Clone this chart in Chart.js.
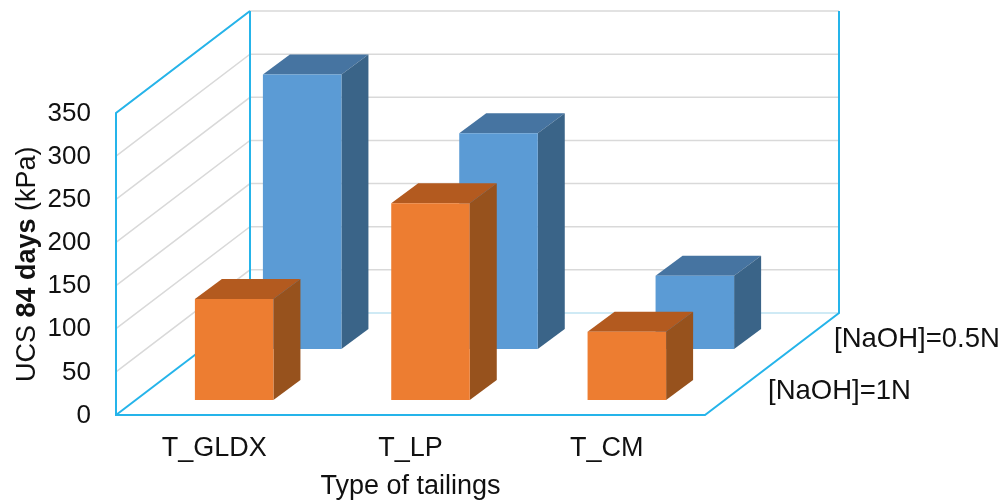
<!DOCTYPE html>
<html>
<head>
<meta charset="utf-8">
<style>
  html, body { margin: 0; padding: 0; background: #fff; }
  #wrap { width: 1003px; height: 500px; }
</style>
<script src="https://cdn.jsdelivr.net/npm/chart.js@4"></script>
</head>
<body>
<div id="wrap"><canvas id="c"></canvas></div>
<script>
const CATEGORIES = ['T_GLDX', 'T_LP', 'T_CM'];
const NAOH_1N = [117, 228, 79];
const NAOH_05N = [318, 250, 85];
const SERIES_LABELS = ['[NaOH]=1N', '[NaOH]=0.5N'];
const Y_TICK_STEP = 50;
const Y_MAX = 350;

const FONT = '"Liberation Sans", Arial, sans-serif';
const TEXT = '#111111';
const WALL = '#25b4ea';
const GRID = '#d9d9d9';
const DEPTH = { x: 134, y: -102 };  // 바닥 깊이 (앞 → 뒤)
const BAR_DEPTH = { x: 27, y: -20 };
const ROW_SHIFT = [{ x: 20, y: -15 }, { x: 88, y: -66 }];
const FACES = [
  { front: '#ed7d31', top: '#b35a1f', side: '#97521d' },
  { front: '#5b9bd5', top: '#4674a1', side: '#3a6488' },
];

function poly(ctx, pts, fill) {
  ctx.beginPath();
  pts.forEach(([x, y], i) => (i ? ctx.lineTo(x, y) : ctx.moveTo(x, y)));
  ctx.closePath();
  ctx.fillStyle = fill;
  ctx.fill();
}

function line(ctx, pts, color, width) {
  ctx.beginPath();
  pts.forEach(([x, y], i) => (i ? ctx.lineTo(x, y) : ctx.moveTo(x, y)));
  ctx.strokeStyle = color;
  ctx.lineWidth = width;
  ctx.stroke();
}

// 벽과 바닥, 격자
const walls = {
  id: 'walls',
  beforeDatasetsDraw(chart) {
    const { ctx, chartArea: a, scales: { y } } = chart;
    ctx.save();
    y.ticks.forEach((t) => {
      const py = y.getPixelForValue(t.value);
      if (t.value > 0) {
        line(ctx, [[a.left, py], [a.left + DEPTH.x, py + DEPTH.y], [a.right + DEPTH.x, py + DEPTH.y]], GRID, 1.5);
      }
    });
    const fl = y.getPixelForValue(0);
    const tp = y.getPixelForValue(Y_MAX);
    line(ctx, [[a.left + DEPTH.x, fl + DEPTH.y], [a.right + DEPTH.x, fl + DEPTH.y]], '#bfe3f2', 1.5);
    line(ctx, [[a.left + DEPTH.x, tp + DEPTH.y], [a.left + DEPTH.x, fl + DEPTH.y]], WALL, 2);
    line(ctx, [[a.left + DEPTH.x, fl + DEPTH.y], [a.left, fl]], WALL, 2);
    line(ctx, [[a.left + DEPTH.x, tp + DEPTH.y], [a.left, tp], [a.left, fl], [a.right, fl],
      [a.right + DEPTH.x, fl + DEPTH.y], [a.right + DEPTH.x, tp + DEPTH.y]], WALL, 2);
    ctx.restore();
  },
};

// 막대를 3D 상자로 그림 (위치는 bar element 값 그대로)
const box3d = {
  id: 'box3d',
  beforeDatasetDraw(chart, args) {
    const { ctx } = chart;
    const shift = ROW_SHIFT[args.index];
    const face = FACES[args.index];
    const d = BAR_DEPTH;
    args.meta.data.forEach((bar) => {
      const l = bar.x - bar.width / 2 + shift.x;
      const r = bar.x + bar.width / 2 + shift.x;
      const t = bar.y + shift.y;
      const b = bar.base + shift.y;
      poly(ctx, [[l, t], [r, t], [r + d.x, t + d.y], [l + d.x, t + d.y]], face.top);
      poly(ctx, [[r, t], [r + d.x, t + d.y], [r + d.x, b + d.y], [r, b]], face.side);
      poly(ctx, [[l, t], [r, t], [r, b], [l, b]], face.front);
    });
    return false;
  },
};

// 세로축 제목(일부 굵게)과 계열 이름
const labels = {
  id: 'labels',
  afterDraw(chart) {
    const { ctx } = chart;
    ctx.save();
    ctx.fillStyle = TEXT;
    ctx.textBaseline = 'alphabetic';
    ctx.textAlign = 'left';
    ctx.font = `27.5px ${FONT}`;
    ctx.fillText(SERIES_LABELS[0], 768, 399);
    ctx.fillText(SERIES_LABELS[1], 834, 347);

    const parts = [['UCS ', 'normal'], ['84 days', 'bold'], [' (kPa)', 'normal']];
    ctx.translate(35, 382);
    ctx.rotate(-Math.PI / 2);
    let x = 0;
    parts.forEach(([s, w]) => {
      ctx.font = `${w} 27px ${FONT}`;
      ctx.fillText(s, x, 0);
      x += ctx.measureText(s).width;
    });
    ctx.restore();
  },
};

new Chart(document.getElementById('c'), {
  type: 'bar',
  data: {
    labels: CATEGORIES,
    datasets: [
      { label: SERIES_LABELS[0], data: NAOH_1N, backgroundColor: FACES[0].front, grouped: false },
      { label: SERIES_LABELS[1], data: NAOH_05N, backgroundColor: FACES[1].front, grouped: false },
    ],
  },
  options: {
    responsive: true,
    maintainAspectRatio: false,
    animation: false,
    layout: { padding: { top: 113, right: 298, bottom: 0, left: 0 } },
    plugins: { legend: { display: false }, tooltip: { enabled: false } },
    datasets: { bar: { barPercentage: 1, categoryPercentage: 0.4 } },
    scales: {
      x: {
        grid: { display: false },
        border: { display: false },
        ticks: { color: TEXT, font: { family: FONT, size: 27 }, padding: 9, maxRotation: 0 },
        title: { display: true, text: 'Type of tailings', color: TEXT, font: { family: FONT, size: 27, lineHeight: 1.03 }, padding: { top: 4, bottom: 0 } },
        afterFit: (s) => { s.height = 85; },
      },
      y: {
        min: 0,
        max: Y_MAX,
        grid: { display: false },
        border: { display: false },
        ticks: { stepSize: Y_TICK_STEP, color: TEXT, font: { family: FONT, size: 26 }, padding: 17, labelOffset: 0.5 },
        afterFit: (s) => { s.width = 116; },
      },
    },
  },
  plugins: [walls, box3d, labels],
});
</script>
</body>
</html>
